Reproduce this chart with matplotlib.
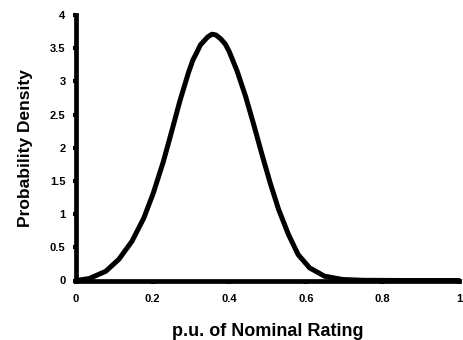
import matplotlib
matplotlib.use("Agg")
import matplotlib.pyplot as plt

# Values
x_vals = [0.000, 0.035, 0.078, 0.112, 0.146, 0.177, 0.202, 0.228, 0.250, 0.271,
          0.293, 0.305, 0.314, 0.325, 0.336, 0.344, 0.355, 0.365, 0.378, 0.390,
          0.400, 0.421, 0.443, 0.464, 0.486, 0.507, 0.529, 0.555, 0.580, 0.610,
          0.649, 0.696, 0.750, 0.850, 1.000]
density = [0.00, 0.03, 0.14, 0.32, 0.59, 0.94, 1.32, 1.79, 2.25, 2.70,
           3.12, 3.32, 3.42, 3.55, 3.62, 3.67, 3.71, 3.70, 3.64, 3.56,
           3.45, 3.15, 2.77, 2.35, 1.89, 1.47, 1.07, 0.69, 0.39, 0.19,
           0.065, 0.015, 0.003, 0.0, 0.0]

x_ticks = [0, 0.2, 0.4, 0.6, 0.8, 1]
x_tick_labels = ["0", "0.2", "0.4", "0.6", "0.8", "1"]
y_ticks = [0, 0.5, 1, 1.5, 2, 2.5, 3, 3.5, 4]
y_tick_labels = ["0", "0.5", "1", "1.5", "2", "2.5", "3", "3.5", "4"]

plt.rcParams['font.family'] = ['Liberation Sans', 'DejaVu Sans']

fig = plt.figure(figsize=(4.64, 3.40), dpi=100)
ax = fig.add_axes([76 / 464, 59.5 / 340, 383 / 464, 265.5 / 340])

ax.plot(x_vals, density, color='black', linewidth=3.6, clip_on=False,
        solid_joinstyle='round', solid_capstyle='round')

ax.set_xlim(0, 1)
ax.set_ylim(0, 4)
ax.set_xticks(x_ticks)
ax.set_xticklabels(x_tick_labels)
ax.set_yticks(y_ticks)
ax.set_yticklabels(y_tick_labels)

for s in ['top', 'right']:
    ax.spines[s].set_visible(False)
for s in ['left', 'bottom']:
    ax.spines[s].set_linewidth(3.4)
    ax.spines[s].set_capstyle('projecting')

ax.tick_params(axis='both', direction='out', length=2.5, width=3,
               labelsize=8, color='black')
ax.tick_params(axis='x', pad=7)
ax.tick_params(axis='y', pad=5)
for lab in ax.get_xticklabels() + ax.get_yticklabels():
    lab.set_fontweight('bold')

ax.set_xlabel("p.u. of Nominal Rating", fontsize=13, fontweight='bold', labelpad=14)
ax.set_ylabel("Probability Density", fontsize=12.5, fontweight='bold', labelpad=12)

fig.savefig("out.png", dpi=100)
